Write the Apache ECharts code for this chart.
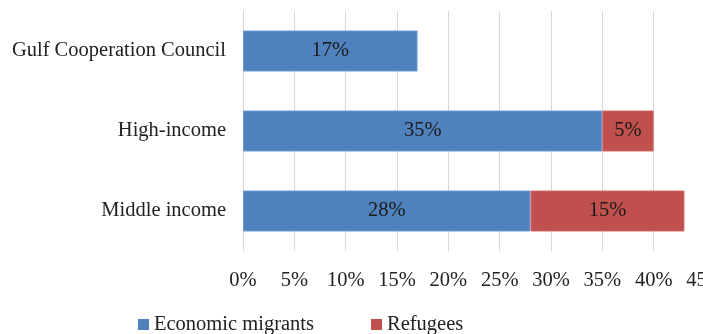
<!DOCTYPE html>
<html>
<head>
<meta charset="utf-8">
<script src="https://cdn.jsdelivr.net/npm/echarts@6/dist/echarts.min.js"></script>
<style>
  html, body { margin: 0; padding: 0; background: #fff; }
  #main { width: 703px; height: 334px; }
</style>
</head>
<body>
<div id="main"></div>
<script>
"use strict"
// categories, bottom to top as echarts draws a y category axis
const categories = ['Middle income', 'High-income', 'Gulf Cooperation Council'];
const economic_migrants = [28, 35, 17];
const refugees = [15, 5, 0];
const x_ticks = [0, 5, 10, 15, 20, 25, 30, 35, 40, 45];

const font = 'Liberation Serif';
const font_size = 20.5;

function hide_zero(p) {
    return p.value ? p.value + '%' : '';
}

// a 0 share draws no bar at all
function drop_zero(arr) {
    return arr.map(function (v) { return v === 0 ? null : v; });
}

const chart = echarts.init(document.getElementById('main'), null, { renderer: 'canvas' });

const option = {
    animation: false,
    textStyle: { fontFamily: font },
    grid: {
        left: 243,
        top: 11,
        width: 462,
        height: 240,
        containLabel: false,
        outerBoundsMode: 'none',
    },
    legend: {
        top: 314,
        left: 138,
        padding: 0,
        itemWidth: 11,
        itemHeight: 11,
        itemGap: 57,
        icon: 'rect',
        itemStyle: { borderWidth: 0 },
        textStyle: { fontFamily: font, fontSize: font_size, color: '#222' },
        data: ['Economic migrants', 'Refugees'],
    },
    xAxis: {
        type: 'value',
        min: x_ticks[0],
        max: x_ticks[x_ticks.length - 1],
        interval: 5,
        axisLine: { show: false },
        axisTick: { show: false },
        splitLine: { lineStyle: { color: '#d9d9d9', width: 1 } },
        axisLabel: {
            formatter: '{value}%',
            fontFamily: font,
            fontSize: font_size,
            color: '#222',
            margin: 19,
        },
    },
    yAxis: {
        type: 'category',
        data: categories,
        axisLine: { lineStyle: { color: '#d9d9d9' } },
        axisTick: { show: false },
        axisLabel: {
            fontFamily: font,
            fontSize: font_size,
            color: '#222',
            margin: 17,
        },
    },
    series: [
        {
            name: 'Economic migrants',
            type: 'bar',
            stack: 'total',
            barWidth: 41,
            data: drop_zero(economic_migrants),
            itemStyle: { color: '#4f81bd', borderColor: '#6f9bd1', borderWidth: 1 },
            label: {
                show: true,
                position: 'inside',
                formatter: hide_zero,
                fontFamily: font,
                fontSize: font_size,
                color: '#1a1a1a',
            },
        },
        {
            name: 'Refugees',
            type: 'bar',
            stack: 'total',
            barWidth: 41,
            data: drop_zero(refugees),
            itemStyle: { color: '#c0504d', borderColor: '#d06a67', borderWidth: 1 },
            label: {
                show: true,
                position: 'inside',
                formatter: hide_zero,
                fontFamily: font,
                fontSize: font_size,
                color: '#1a1a1a',
            },
        },
    ],
};

chart.setOption(option);
</script>
</body>
</html>
